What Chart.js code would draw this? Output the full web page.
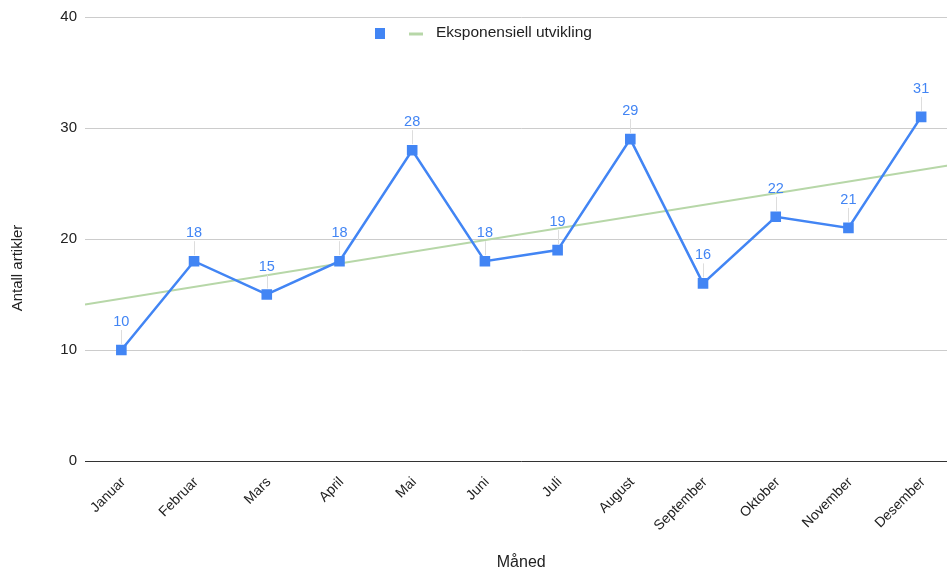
<!DOCTYPE html>
<html>
<head>
<meta charset="utf-8">
<script src="https://cdn.jsdelivr.net/npm/chart.js@4.4.1/dist/chart.umd.min.js"></script>
<style>
  html, body { margin: 0; padding: 0; background: #fff; overflow: hidden; }
  #wrap { width: 947px; height: 572px; overflow: hidden; }
  canvas { display: block; }
</style>
</head>
<body>
<div id="wrap"><canvas id="chart" width="965" height="572"></canvas></div>
<script>
// Published articles per month
const months = ['Januar', 'Februar', 'Mars', 'April', 'Mai', 'Juni', 'Juli',
                'August', 'September', 'Oktober', 'November', 'Desember'];
const articles = [10, 18, 15, 18, 28, 18, 19, 29, 16, 22, 21, 31];

// Trend line end points (position along the month axis, value)
const trendPos = [-0.5, 11.5];
const trendVals = [14.1, 26.75];

const yTicks = [0, 10, 20, 30, 40];
const trendName = 'Eksponensiell utvikling';
const xTitle = 'Måned';
const yTitle = 'Antall artikler';

const FONT = '"Liberation Sans", Arial, sans-serif';
const TEXT = '#222222';
const BLUE = '#4285f4';
const GREEN = '#b7d7a8';

// Value labels with a thin leader line above each point
const valueLabels = {
  id: 'valueLabels',
  afterDatasetsDraw(chart) {
    const meta = chart.getDatasetMeta(0);
    const ctx = chart.ctx;
    ctx.save();
    meta.data.forEach((pt, i) => {
      ctx.strokeStyle = '#dddddd';
      ctx.lineWidth = 1;
      ctx.beginPath();
      ctx.moveTo(Math.round(pt.x) + 0.5, pt.y - 6);
      ctx.lineTo(Math.round(pt.x) + 0.5, pt.y - 20);
      ctx.stroke();
      ctx.fillStyle = BLUE;
      ctx.font = '14.5px ' + FONT;
      ctx.textAlign = 'center';
      ctx.textBaseline = 'middle';
      ctx.fillText(String(articles[i]), pt.x, pt.y - 28);
    });
    ctx.restore();
  }
};

// Legend row inside the plot and the vertical axis title
const extras = {
  id: 'extras',
  afterDraw(chart) {
    const ctx = chart.ctx;
    ctx.save();
    ctx.fillStyle = BLUE;
    ctx.fillRect(375, 28, 10, 11);
    ctx.strokeStyle = GREEN;
    ctx.lineWidth = 3;
    ctx.beginPath();
    ctx.moveTo(409, 34);
    ctx.lineTo(423, 34);
    ctx.stroke();
    ctx.fillStyle = TEXT;
    ctx.font = '15.5px ' + FONT;
    ctx.textAlign = 'left';
    ctx.textBaseline = 'middle';
    ctx.fillText(trendName, 436, 33);

    ctx.font = '15px ' + FONT;
    ctx.translate(18, 268);
    ctx.rotate(-Math.PI / 2);
    ctx.textAlign = 'center';
    ctx.fillText(yTitle, 0, 0);
    ctx.restore();
  }
};

new Chart(document.getElementById('chart'), {
  type: 'line',
  data: {
    labels: months,
    datasets: [
      {
        label: '',
        data: articles,
        borderColor: BLUE,
        backgroundColor: BLUE,
        borderWidth: 2.5,
        pointStyle: 'rect',
        pointRadius: 7.5,
        pointBorderWidth: 0,
        tension: 0,
        order: 1
      },
      {
        label: trendName,
        data: trendPos.map((p, i) => ({ x: p, y: trendVals[i] })),
        xAxisID: 'xt',
        borderColor: GREEN,
        backgroundColor: GREEN,
        borderWidth: 2,
        pointRadius: 0,
        tension: 0,
        order: 2
      }
    ]
  },
  options: {
    responsive: false,
    animation: false,
    layout: { padding: { left: 0, right: 3, top: 16, bottom: 0 } },
    plugins: {
      legend: { display: false },
      tooltip: { enabled: false }
    },
    scales: {
      x: {
        type: 'category',
        offset: true,
        grid: { display: false, drawTicks: false },
        border: { display: true, color: '#333333', width: 1 },
        ticks: {
          color: TEXT,
          font: { family: FONT, size: 14 },
          maxRotation: 45,
          minRotation: 45,
          autoSkip: false,
          padding: 13,
          labelOffset: 2
        },
        title: {
          display: true,
          text: xTitle,
          color: TEXT,
          font: { family: FONT, size: 16 },
          padding: { top: 0, bottom: 0 }
        },
        afterFit(scale) { scale.height = 111; }
      },
      xt: {
        type: 'linear',
        position: 'bottom',
        display: false,
        min: trendPos[0],
        max: trendPos[trendPos.length - 1]
      },
      y: {
        min: yTicks[0],
        max: yTicks[yTicks.length - 1],
        grid: { color: '#cccccc', drawTicks: false },
        border: { display: false },
        ticks: {
          stepSize: yTicks[1] - yTicks[0],
          color: TEXT,
          font: { family: FONT, size: 15 },
          padding: 8
        },
        afterFit(scale) { scale.width = 85; }
      }
    }
  },
  plugins: [valueLabels, extras]
});
</script>
</body>
</html>
